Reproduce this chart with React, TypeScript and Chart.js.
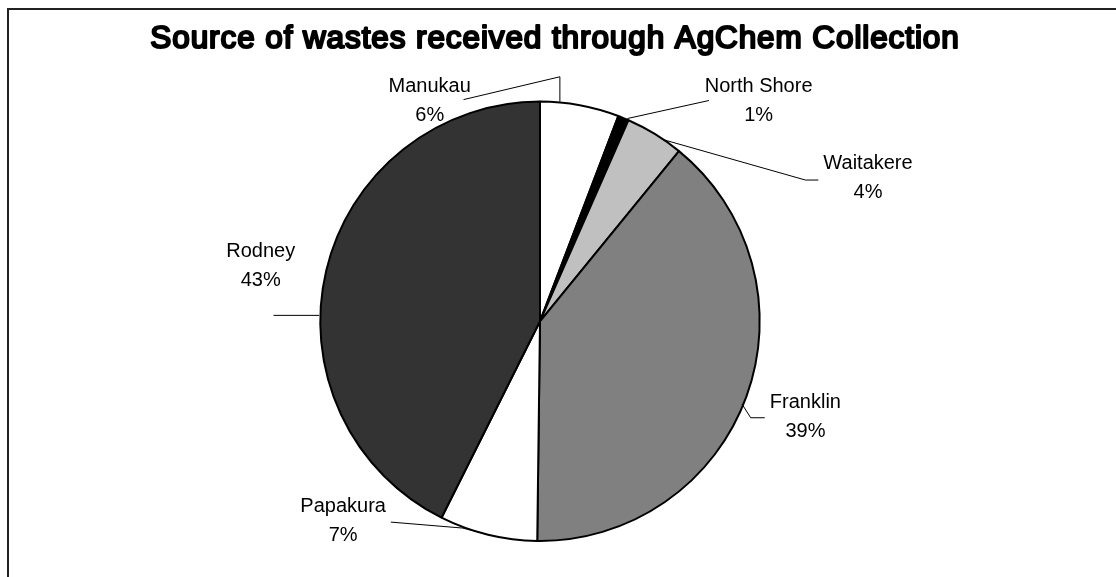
import React, { useEffect, useRef } from "react";
import { Chart, registerables } from "chart.js";

Chart.register(...registerables);

const titleText = "Source of wastes received through AgChem Collection";
const categories = ["Manukau", "North Shore", "Waitakere", "Franklin", "Papakura", "Rodney"];
const values = [5.8, 0.8, 4.3, 39.3, 7.2, 42.6];
const sliceColors = ["#ffffff", "#000000", "#c0c0c0", "#808080", "#ffffff", "#333333"];

// Label placement in units of the pie radius, relative to the pie centre (layout only)
const labelPlacement = [
  { text: [-0.502, -1.002], leader: [[-0.348, -1.009], [0.0905, -1.113], [0.0905, -1.0]] },
  { text: [0.995, -1.002], leader: [[0.769, -1.005], [0.398, -0.923]] },
  { text: [1.493, -0.654], leader: [[1.267, -0.643], [1.208, -0.643], [0.557, -0.828]] },
  { text: [1.208, 0.434], leader: [[1.023, 0.439], [0.959, 0.439], [0.919, 0.376]] },
  { text: [-0.896, 0.907], leader: [[-0.679, 0.914], [-0.353, 0.941], [-0.262, 0.964]] },
  { text: [-1.271, -0.253], leader: [[-1.213, -0.027], [-1.005, -0.027]] },
];

const FONT = '"Liberation Sans", Arial, sans-serif';
const TITLE_SIZE = 31.5;

const framePlugin = {
  id: "frame",
  beforeDraw(chart: any) {
    const ctx = chart.ctx;
    ctx.save();
    ctx.fillStyle = "#ffffff";
    ctx.fillRect(0, 0, chart.width, chart.height);
    ctx.fillStyle = "#222222";
    ctx.fillRect(7, 8, 2, chart.height - 8);
    ctx.fillRect(7, 8, chart.width - 7, 2);
    ctx.restore();
  },
};

// Draws the title with an emboldened regular face (the bold face resolves to a narrow variant)
const titlePlugin = {
  id: "boldTitle",
  afterDraw(chart: any) {
    const tb = chart.titleBlock;
    if (!tb) return;
    const ctx = chart.ctx;
    ctx.save();
    ctx.font = `${TITLE_SIZE}px ${FONT}`;
    try {
      (ctx as any).letterSpacing = "0.9px";
    } catch (e) {}
    ctx.textAlign = "center";
    ctx.textBaseline = "middle";
    ctx.fillStyle = "#000000";
    ctx.strokeStyle = "#000000";
    ctx.lineWidth = 2.2;
    ctx.lineJoin = "round";
    const x = chart.width / 2 - 3;
    const y = tb.top + 21 + (TITLE_SIZE * 1.2) / 2 - 1;
    ctx.fillText(tb.options.text, x, y);
    ctx.strokeText(tb.options.text, x, y);
    ctx.restore();
  },
};

const labelPlugin = {
  id: "pieLabels",
  afterDraw(chart: any) {
    const ctx = chart.ctx;
    const meta = chart.getDatasetMeta(0);
    const data = chart.data.datasets[0].data as number[];
    const total = data.reduce((a, b) => a + b, 0);
    ctx.save();
    meta.data.forEach((arc: any, i: number) => {
      const cx = arc.x;
      const cy = arc.y;
      const r = arc.outerRadius;
      const p = labelPlacement[i];
      if (!p) return;
      ctx.strokeStyle = "#000000";
      ctx.lineWidth = 1;
      ctx.beginPath();
      p.leader.forEach((pt: number[], j: number) => {
        const x = cx + pt[0] * r;
        const y = cy + pt[1] * r;
        if (j === 0) ctx.moveTo(x, y);
        else ctx.lineTo(x, y);
      });
      ctx.stroke();
      const tx = cx + p.text[0] * r;
      const ty = cy + p.text[1] * r;
      ctx.fillStyle = "#000000";
      ctx.font = `20px ${FONT}`;
      ctx.textAlign = "center";
      ctx.textBaseline = "middle";
      const pct = Math.round((data[i] / total) * 100) + "%";
      ctx.fillText(chart.data.labels[i], tx, ty - 14.5);
      ctx.fillText(pct, tx, ty + 14.5);
    });
    ctx.restore();
  },
};

export default function App() {
  const ref = useRef<HTMLCanvasElement | null>(null);
  useEffect(() => {
    if (!ref.current) return;
    const chart = new Chart(ref.current, {
      type: "pie",
      data: {
        labels: categories,
        datasets: [
          {
            data: values,
            backgroundColor: sliceColors,
            borderColor: "#000000",
            borderWidth: 2,
          },
        ],
      },
      options: {
        responsive: false,
        animation: false,
        devicePixelRatio: 1,
        layout: { padding: { left: 300, right: 336, top: 0, bottom: 35 } },
        plugins: {
          legend: { display: false },
          tooltip: { enabled: false },
          title: {
            display: true,
            text: titleText,
            color: "rgba(0,0,0,0)",
            font: { family: FONT, size: TITLE_SIZE, weight: "normal" },
            padding: { top: 21, bottom: 41.8 },
          },
        },
      },
      plugins: [framePlugin, labelPlugin, titlePlugin],
    });
    return () => chart.destroy();
  }, []);
  return (
    <div style={{ position: "absolute", left: 0, top: 0, width: 1116, height: 577, background: "#fff" }}>
      <canvas ref={ref} width={1116} height={577} style={{ display: "block" }} />
    </div>
  );
}
